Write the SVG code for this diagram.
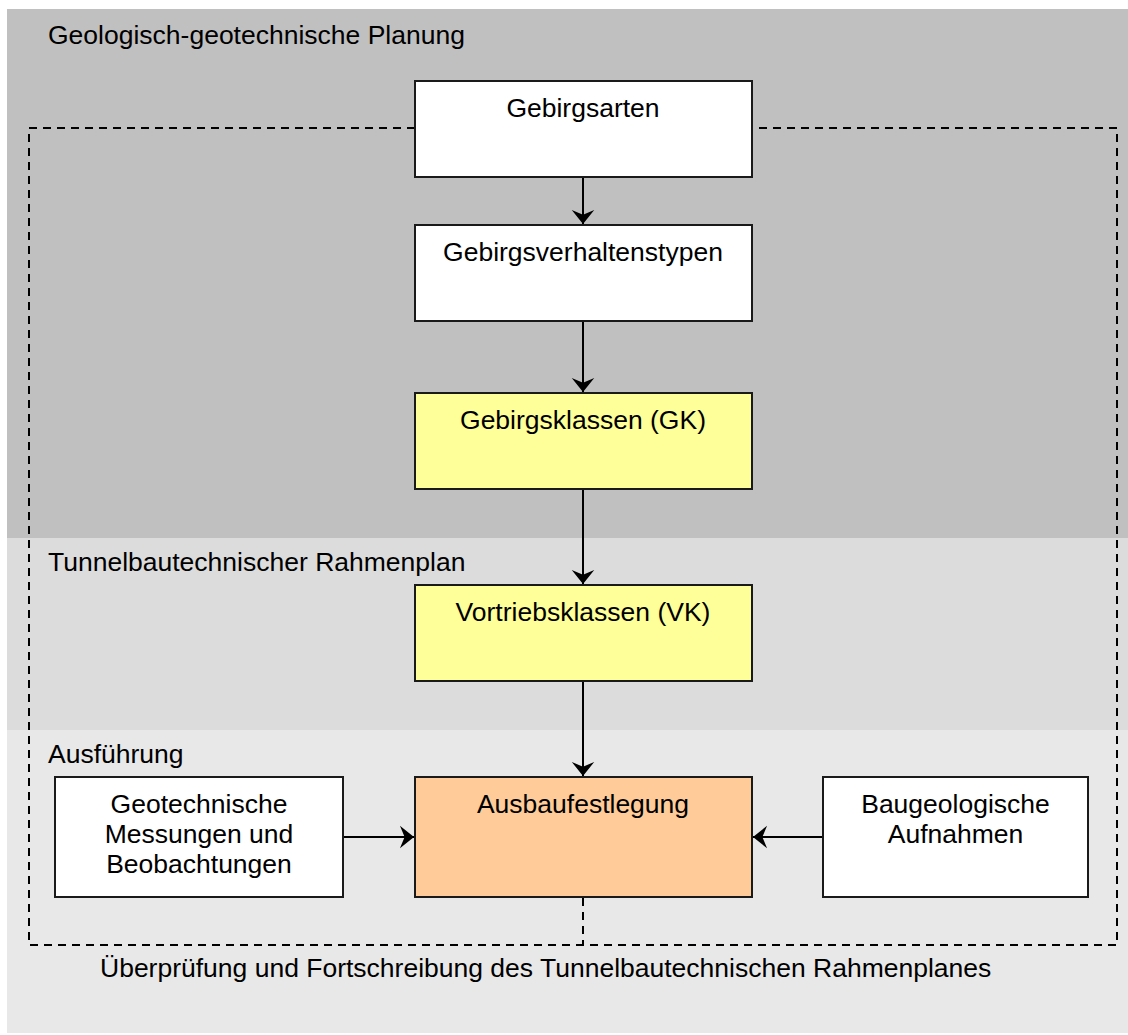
<svg xmlns="http://www.w3.org/2000/svg" width="1128" height="1035" viewBox="0 0 1128 1035">
<defs>
<style>
text{font-family:"Liberation Sans",Arial,sans-serif;font-size:26.5px;fill:#000}
.box{stroke:#1a1a1a;stroke-width:2}
.c{text-anchor:middle}
.ln{stroke:#000;stroke-width:2;fill:none}
.dash{stroke:#000;stroke-width:2;fill:none;stroke-dasharray:8 6}
</style>
<marker id="ah" markerUnits="userSpaceOnUse" markerWidth="30" markerHeight="30" viewBox="-16 -16 32 32" refX="0" refY="0" orient="auto">
<path d="M0,0 L-15,-12 L-10,0 L-15,12 Z" fill="#000"/>
</marker>
</defs>
<rect width="1128" height="1035" fill="#fff"/>
<g id="bands">
<rect x="7" y="9" width="1121" height="529" fill="#c0c0c0"/>
<rect x="7" y="538" width="1121" height="192" fill="#dcdcdc"/>
<rect x="7" y="730" width="1121" height="303" fill="#e8e8e8"/>
<text x="48" y="44">Geologisch-geotechnische Planung</text>
<text x="48" y="571">Tunnelbautechnischer Rahmenplan</text>
<text x="48" y="763">Ausführung</text>
</g>
<g id="frame">
<path class="dash" d="M415,128 H29 V945 H1117 V128 H752"/>
<text x="100" y="977">Überprüfung und Fortschreibung des Tunnelbautechnischen Rahmenplanes</text>
</g>
<g id="connectors">
<line class="ln" x1="583" y1="177" x2="583" y2="224" marker-end="url(#ah)"/>
<line class="ln" x1="583" y1="321" x2="583" y2="392" marker-end="url(#ah)"/>
<line class="ln" x1="583" y1="489" x2="583" y2="584" marker-end="url(#ah)"/>
<line class="ln" x1="583" y1="681" x2="583" y2="776" marker-end="url(#ah)"/>
<line class="ln" x1="343" y1="837" x2="414" y2="837" marker-end="url(#ah)"/>
<line class="ln" x1="823" y1="837" x2="753" y2="837" marker-end="url(#ah)"/>
<line class="dash" x1="583" y1="898" x2="583" y2="945"/>
</g>
<g id="gebirgsarten">
<rect class="box" x="415" y="81" width="337" height="96" fill="#fff"/>
<text class="c" x="583" y="117">Gebirgsarten</text>
</g>
<g id="gebirgsverhaltenstypen">
<rect class="box" x="415" y="225" width="337" height="96" fill="#fff"/>
<text class="c" x="583" y="261">Gebirgsverhaltenstypen</text>
</g>
<g id="gebirgsklassen">
<rect class="box" x="415" y="393" width="337" height="96" fill="#ffff99"/>
<text class="c" x="583" y="429">Gebirgsklassen (GK)</text>
</g>
<g id="vortriebsklassen">
<rect class="box" x="415" y="585" width="337" height="96" fill="#ffff99"/>
<text class="c" x="583" y="621">Vortriebsklassen (VK)</text>
</g>
<g id="ausbaufestlegung">
<rect class="box" x="415" y="777" width="337" height="120" fill="#ffcc99"/>
<text class="c" x="583" y="813">Ausbaufestlegung</text>
</g>
<g id="geotechnische">
<rect class="box" x="55" y="777" width="288" height="120" fill="#fff"/>
<text class="c" x="199" y="813">Geotechnische</text>
<text class="c" x="199" y="843">Messungen und</text>
<text class="c" x="199" y="873">Beobachtungen</text>
</g>
<g id="baugeologische">
<rect class="box" x="823" y="777" width="265" height="120" fill="#fff"/>
<text class="c" x="955.5" y="813">Baugeologische</text>
<text class="c" x="955.5" y="843">Aufnahmen</text>
</g>
</svg>
